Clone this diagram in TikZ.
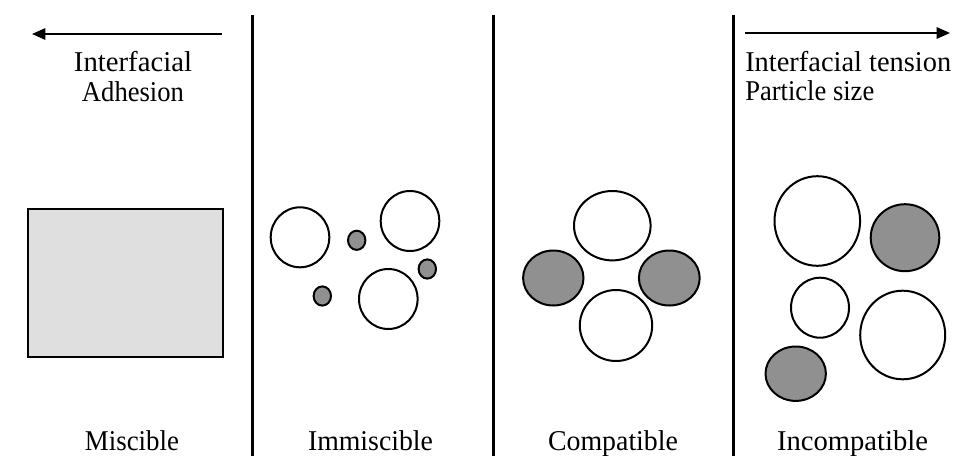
\documentclass[tikz,border=0pt]{standalone}
\usepackage{fontspec}
\setmainfont{Liberation Serif}
\usetikzlibrary{arrows.meta}
\definecolor{lightfill}{HTML}{DFDFDF}
\definecolor{darkfill}{HTML}{909090}
\newcommand\fitw[2]{\resizebox{#1}{\height}{#2}}
\begin{document}
\begin{tikzpicture}[x=0.75pt,y=-0.75pt,
  lbl/.style={font=\fontsize{21.5}{25}\selectfont, inner sep=0pt, anchor=base},
  lblw/.style={lbl, anchor=base west},
  bot/.style={lbl, text depth=0pt},
  divider/.style={line width=2.3pt},
  arr/.style={line width=1.5pt, -{Triangle[length=10pt,width=8.5pt]}},
  whitep/.style={draw, line width=1.5pt, fill=white},
  grayp/.style={draw, line width=1.5pt, fill=darkfill}]
\useasboundingbox (0,0) rectangle (962,456);
% dividers
\coordinate (d1t) at (252.5,15); \coordinate (d1b) at (252.5,458);
\coordinate (d2t) at (493.5,15); \coordinate (d2b) at (493.5,458);
\coordinate (d3t) at (733.5,15); \coordinate (d3b) at (733.5,458);
\draw[divider] (d1t) -- (d1b);
\draw[divider] (d2t) -- (d2b);
\draw[divider] (d3t) -- (d3b);
% arrows
\coordinate (la0) at (222,34); \coordinate (la1) at (32,34);
\coordinate (ra0) at (745,33); \coordinate (ra1) at (950,33);
\draw[arr] (la0) -- (la1);
\draw[arr] (ra0) -- (ra1);
% top labels
\node[lbl] (t1) at (133,72) {\fitw{88.5pt}{Interfacial}};
\node[lbl] (t2) at (133,102) {\fitw{76.5pt}{Adhesion}};
\node[lblw] (t3) at (745,72) {\fitw{154.5pt}{Interfacial tension}};
\node[lblw] (t4) at (745,101) {\fitw{96.75pt}{Particle size}};
% bottom labels
\node[bot] (b1) at (132,450) {\fitw{70.5pt}{Miscible}};
\node[bot] (b2) at (370.5,450) {\fitw{93.75pt}{Immiscible}};
\node[bot] (b3) at (613,450) {\fitw{97.5pt}{Compatible}};
\node[bot] (b4) at (852.5,450) {\fitw{113.25pt}{Incompatible}};
% miscible
\draw[line width=1.5pt, fill=lightfill] (28,209) rectangle (222.5,357);
% immiscible
\draw[whitep] (300,237.3) ellipse [x radius=29.3, y radius=30];
\draw[whitep] (410,221) ellipse [x radius=29.3, y radius=30];
\draw[whitep] (388.3,299) ellipse [x radius=29.3, y radius=30];
\draw[grayp] (356.7,240.3) ellipse [x radius=8.7, y radius=9.6];
\draw[grayp] (427.3,269) ellipse [x radius=8.7, y radius=9.6];
\draw[grayp] (322.3,296) ellipse [x radius=8.7, y radius=9.6];
% compatible
\draw[whitep] (612.3,225.7) ellipse [x radius=38.3, y radius=34.7];
\draw[grayp] (553.3,278) ellipse [x radius=30.2, y radius=27.5];
\draw[grayp] (669.3,278) ellipse [x radius=30.4, y radius=27.5];
\draw[whitep] (616,325.5) ellipse [x radius=36.2, y radius=35.5];
% incompatible
\draw[whitep] (817.3,221) ellipse [x radius=42.8, y radius=44.8];
\draw[grayp] (905,237.7) ellipse [x radius=34.3, y radius=33.5];
\draw[whitep] (820,307.7) ellipse [x radius=29, y radius=30];
\draw[whitep] (902.7,335) ellipse [x radius=42.5, y radius=44.3];
\draw[grayp] (795.7,373.7) ellipse [x radius=30.2, y radius=27.2];
\end{tikzpicture}
\end{document}
